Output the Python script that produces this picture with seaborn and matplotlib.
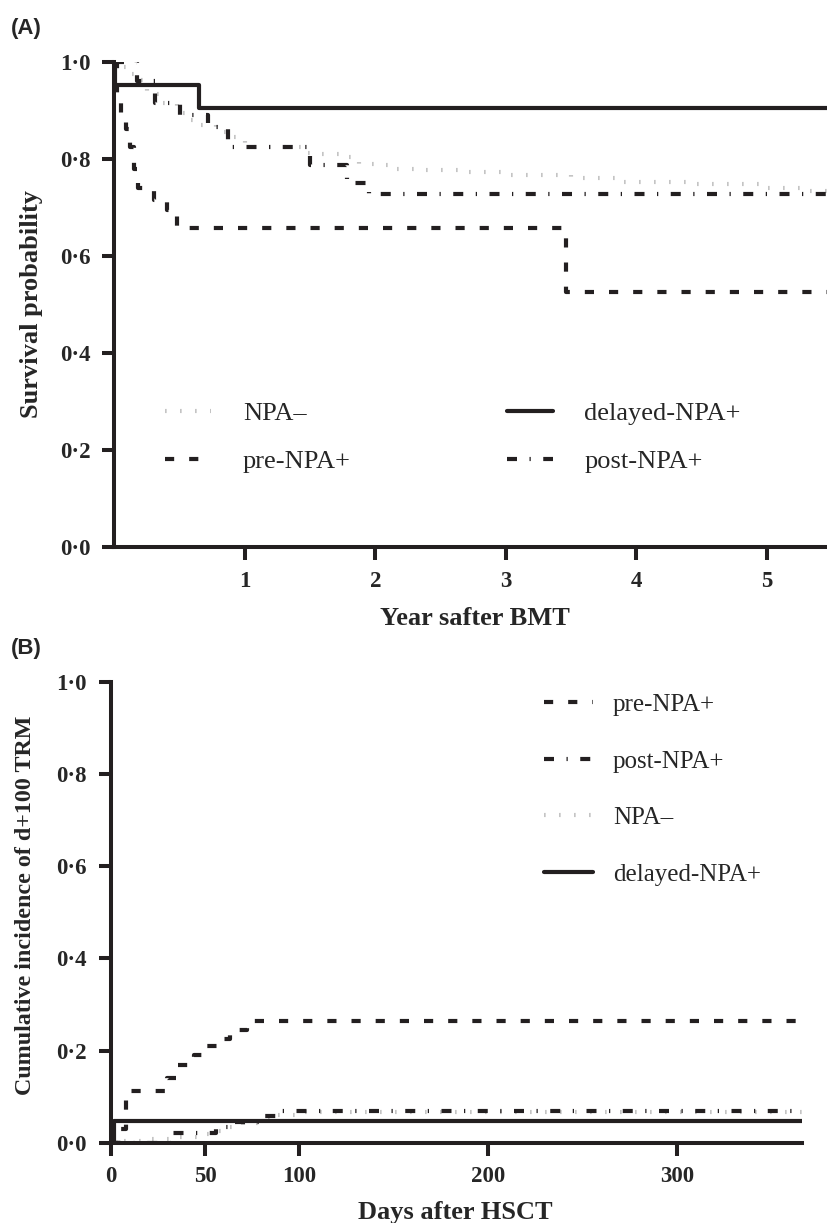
import numpy as np
import pandas as pd
import matplotlib
matplotlib.use('Agg')
import matplotlib.pyplot as plt
import seaborn as sns
from matplotlib.ticker import FixedLocator, FixedFormatter

# ---------------- dados ----------------
# (A) sobrevida, anos apos o TMO
a_npa_neg_t = [0, 0.04, 0.10, 0.17, 0.25, 0.35, 0.48, 0.58, 0.66, 0.78, 0.88, 1.0, 1.45, 1.56, 1.75,
               1.87, 2.0, 2.1, 2.3, 2.7, 3.0, 3.5, 3.9, 4.4, 5.0, 5.3, 5.5]
a_npa_neg_v = [1.0, 0.99, 0.975, 0.963, 0.935, 0.915, 0.895, 0.88, 0.87, 0.855, 0.845, 0.825, 0.812,
               0.81, 0.805, 0.79, 0.788, 0.78, 0.777, 0.773, 0.768, 0.76, 0.753, 0.748, 0.74, 0.734, 0.734]
a_pre_t = [0, 0.02, 0.05, 0.09, 0.12, 0.15, 0.18, 0.30, 0.40, 0.48, 3.46, 5.5]
a_pre_v = [1.0, 0.93, 0.895, 0.862, 0.825, 0.78, 0.74, 0.715, 0.695, 0.658, 0.526, 0.526]
a_post_t = [0, 0.17, 0.31, 0.5, 0.72, 0.87, 1.5, 1.78, 1.95, 5.5]
a_post_v = [1.0, 0.96, 0.915, 0.89, 0.866, 0.825, 0.788, 0.75, 0.727, 0.727]
a_delayed_t = [0, 0.005, 0.65, 5.5]
a_delayed_v = [1.0, 0.952, 0.905, 0.905]

# (B) incidencia cumulativa, dias apos o TCTH
b_pre_t = [0, 4, 8, 30, 35, 44, 50, 57, 63, 72, 366]
b_pre_v = [0, 0.03, 0.112, 0.14, 0.168, 0.19, 0.21, 0.226, 0.245, 0.265, 0.265]
b_post_t = [0, 32, 56, 66, 80, 90, 366]
b_post_v = [0, 0.022, 0.034, 0.045, 0.057, 0.068, 0.068]
b_npa_neg_t = [0, 5, 20, 35, 48, 55, 62, 70, 78, 88, 100, 366]
b_npa_neg_v = [0, 0.004, 0.008, 0.012, 0.018, 0.025, 0.033, 0.042, 0.05, 0.06, 0.067, 0.067]
b_delayed_t = [0, 2, 366]
b_delayed_v = [0, 0.048, 0.048]

y_ticks = [0.0, 0.2, 0.4, 0.6, 0.8, 1.0]
y_tick_labels = ['0·0', '0·2', '0·4', '0·6', '0·8', '1·0']
a_x_ticks = [1, 2, 3, 4, 5]
b_x_ticks = [0, 50, 100, 200, 300]

# ---------------- estilo ----------------
sns.set_style('ticks')
plt.rcParams['font.family'] = ['Liberation Serif', 'DejaVu Serif']
plt.rcParams['axes.edgecolor'] = '#231f20'
plt.rcParams['axes.linewidth'] = 2.9

dark = '#231f20'
grey = '#c4c4c4'
lw = 3.0
estilos = {
    'NPA–': dict(color=grey, linestyle=(0, (0.4, 3.2)), lw=lw, zorder=2),
    'pre-NPA+': dict(color=dark, linestyle=(0, (2.2, 3.6)), lw=lw, zorder=3),
    'post-NPA+': dict(color=dark, linestyle=(0, (2.4, 3.0, 0.3, 3.0)), lw=lw, zorder=3),
    'delayed-NPA+': dict(color=dark, linestyle='-', lw=lw, zorder=4),
}

fig = plt.figure(figsize=(8.27, 12.23), dpi=100)
W, H = 827, 1223
axA = fig.add_axes([114.5 / W, 1 - 547 / H, (W - 114.5) / W, (547 - 62) / H])
axB = fig.add_axes([110.5 / W, 1 - 1142.7 / H, (802 - 110.5) / W, (1142.7 - 682) / H])


def curva(ax, t, v, nome):
    df = pd.DataFrame({'t': t, 'v': v})
    sns.lineplot(data=df, x='t', y='v', ax=ax, drawstyle='steps-post', estimator=None,
                 label=nome, **estilos[nome])


def eixo(ax, xlim, xticks):
    ax.set_xlim(*xlim)
    ax.set_ylim(0, 1.0)
    sns.despine(ax=ax)
    ax.yaxis.set_major_locator(FixedLocator(y_ticks))
    ax.yaxis.set_major_formatter(FixedFormatter(y_tick_labels))
    ax.set_xticks(xticks)
    ax.set_xticklabels([str(x) for x in xticks])
    ax.tick_params(axis='both', direction='out', length=9, width=2.9, color=dark,
                   labelsize=16.5, pad=8)
    for lab in ax.get_xticklabels() + ax.get_yticklabels():
        lab.set_fontweight('bold')


# (A)
curva(axA, a_npa_neg_t, a_npa_neg_v, 'NPA–')
curva(axA, a_pre_t, a_pre_v, 'pre-NPA+')
curva(axA, a_delayed_t, a_delayed_v, 'delayed-NPA+')
curva(axA, a_post_t, a_post_v, 'post-NPA+')
eixo(axA, (0, 5.46), a_x_ticks)
axA.set_xlabel('Year safter BMT', fontsize=19, fontweight='bold')
axA.set_ylabel('Survival probability', fontsize=19, fontweight='bold')
axA.xaxis.set_label_coords(0.506, -0.124)
axA.yaxis.set_label_coords(-0.100, 0.5)
axA.legend(loc='upper left', bbox_to_anchor=(0.071, 0.300), ncol=2, frameon=False,
           fontsize=19, handlelength=1.75, handletextpad=1.2, columnspacing=5.9,
           labelspacing=0.94, borderpad=0, borderaxespad=0)

# (B)
curva(axB, b_pre_t, b_pre_v, 'pre-NPA+')
curva(axB, b_post_t, b_post_v, 'post-NPA+')
curva(axB, b_npa_neg_t, b_npa_neg_v, 'NPA–')
curva(axB, b_delayed_t, b_delayed_v, 'delayed-NPA+')
eixo(axB, (0, 366), b_x_ticks)
axB.set_xlabel('Days after HSCT', fontsize=19, fontweight='bold')
axB.set_ylabel('Cumulative incidence of d+100 TRM', fontsize=17.3, fontweight='bold')
axB.xaxis.set_label_coords(0.498, -0.127)
axB.yaxis.set_label_coords(-0.108, 0.516)
axB.legend(loc='upper left', bbox_to_anchor=(0.627, 0.975), ncol=1, frameon=False,
           fontsize=18, handlelength=1.96, handletextpad=0.8, labelspacing=1.36,
           borderpad=0, borderaxespad=0)

fig.text(11 / W, 1 - 18 / H, '(A)', family=['Liberation Sans', 'DejaVu Sans'],
         fontweight='bold', fontsize=16, va='top', ha='left')
fig.text(11 / W, 1 - 638 / H, '(B)', family=['Liberation Sans', 'DejaVu Sans'],
         fontweight='bold', fontsize=16, va='top', ha='left')

fig.savefig('out.png', dpi=100)
